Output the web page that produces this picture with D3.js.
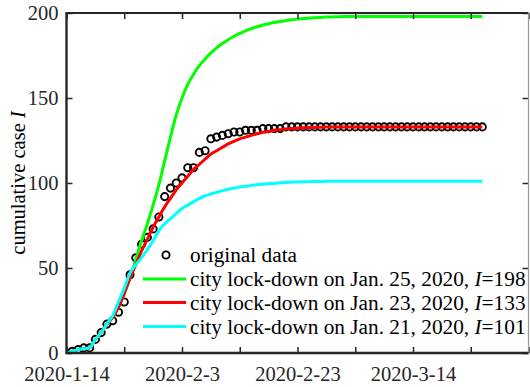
<!DOCTYPE html>
<html>
<head>
<meta charset="utf-8">
<script src="https://cdn.jsdelivr.net/npm/d3@7"></script>
</head>
<body style="margin:0">
<svg id="fig" width="530" height="387" style="font-family: 'Liberation Serif', 'Times New Roman', monospace;"></svg>
<script>
// Days since 2020-1-14 for every daily record
const days = d3.range(0, 73);

// Reported cumulative cases I
const original = [
  0, 1, 2, 3, 3, 8, 12, 17, 19, 24,
  30, 46, 56, 64, 68, 73, 80, 92, 97, 100,
  103, 109, 109, 118, 119, 126, 127, 128, 129, 130,
  130, 131, 131, 131, 132, 132, 132, 132, 133, 133,
  133, 133, 133, 133, 133, 133, 133, 133, 133, 133,
  133, 133, 133, 133, 133, 133, 133, 133, 133, 133,
  133, 133, 133, 133, 133, 133, 133, 133, 133, 133,
  133, 133, 133
];

// Model curves for three lock-down dates
const lockJan25 = [
  0, 1, 2, 2.5, 3, 8, 12, 17, 21, 27,
  35, 44, 55, 66, 76, 87, 99, 113, 127, 140,
  150, 158, 164, 169, 173, 176.5, 179.5, 182, 184.3, 186.3,
  188, 189.5, 190.8, 191.9, 192.9, 193.7, 194.4, 195, 195.5, 196,
  196.4, 196.7, 197, 197.2, 197.4, 197.6, 197.7, 197.8, 197.9, 198,
  198, 198, 198, 198, 198, 198, 198, 198, 198, 198,
  198, 198, 198, 198, 198, 198, 198, 198, 198, 198,
  198, 198, 198
];
const lockJan23 = [
  0, 1, 2, 2.5, 3, 8, 12, 17, 21, 27,
  35, 44, 52, 60, 67, 74, 80, 86, 91, 96,
  100, 104, 108, 111, 114, 117, 119, 121, 123, 124.5,
  126, 127, 128, 129, 129.8, 130.4, 131, 131.4, 131.8, 132.1,
  132.3, 132.5, 132.6, 132.7, 132.8, 132.9, 133, 133, 133, 133,
  133, 133, 133, 133, 133, 133, 133, 133, 133, 133,
  133, 133, 133, 133, 133, 133, 133, 133, 133, 133,
  133, 133, 133
];
const lockJan21 = [
  0, 1, 2, 2.5, 3, 8, 12, 17, 22, 30,
  38, 47, 52, 56, 61, 66, 72, 76, 79, 82,
  85, 87, 89, 91, 92.5, 93.5, 94.5, 95.5, 96.3, 97,
  97.6, 98.1, 98.6, 99, 99.3, 99.6, 99.9, 100.1, 100.3, 100.5,
  100.6, 100.7, 100.8, 100.9, 100.9, 101, 101, 101, 101, 101,
  101, 101, 101, 101, 101, 101, 101, 101, 101, 101,
  101, 101, 101, 101, 101, 101, 101, 101, 101, 101,
  101, 101, 101
];

const seriesNames = [
  "city lock-down on Jan. 25, 2020, ",
  "city lock-down on Jan. 23, 2020, ",
  "city lock-down on Jan. 21, 2020, "
];
const seriesFinal = ["198", "133", "101"];
const seriesColors = ["#00ff00", "#ff0000", "#00ffff"];
const seriesValues = [lockJan25, lockJan23, lockJan21];

// Axis ticks
const xTickDays = [0, 10, 20, 30, 40, 50, 60, 70, 80];
const xTickLabels = ["2020-1-14", "", "2020-2-3", "", "2020-2-23", "", "2020-3-14", "", ""];
const yTicks = [0, 50, 100, 150, 200];

const plot = { left: 66.5, right: 528.5, top: 13, bottom: 353 };
const axisColor = "#262626";

const svg = d3.select("#fig");
const x = d3.scaleLinear().domain([0, 80]).range([plot.left, plot.right]);
const y = d3.scaleLinear().domain([0, 200]).range([plot.bottom, plot.top]);

// Clip the marks to the axes box
svg.append("defs").append("clipPath").attr("id", "box")
  .append("rect")
  .attr("x", plot.left).attr("y", plot.top - 2)
  .attr("width", plot.right - plot.left).attr("height", plot.bottom - plot.top + 2);

const marks = svg.append("g").attr("clip-path", "url(#box)");

// Observed data as open circles
marks.append("g").selectAll("circle")
  .data(days)
  .join("circle")
  .attr("cx", d => x(d))
  .attr("cy", d => y(original[d]))
  .attr("r", 3.6)
  .attr("fill", "none")
  .attr("stroke", "#000")
  .attr("stroke-width", 1.9);

// Model curves
const line = d3.line()
  .x(d => x(d[0]))
  .y(d => y(d[1]))
  .curve(d3.curveMonotoneX);

seriesValues.forEach((vals, i) => {
  marks.append("path")
    .datum(days.map(d => [d, vals[d]]))
    .attr("d", line)
    .attr("fill", "none")
    .attr("stroke", seriesColors[i])
    .attr("stroke-width", 3)
    .attr("stroke-linejoin", "round");
});

// Axes (ticks point inward)
const fontSize = 20.5;
const xAxis = d3.axisBottom(x)
  .tickValues(xTickDays)
  .tickFormat((d, i) => xTickLabels[i])
  .tickSizeInner(-6).tickSizeOuter(0).tickPadding(13);
const xTop = d3.axisTop(x)
  .tickValues(xTickDays).tickFormat("")
  .tickSizeInner(-6).tickSizeOuter(0);
const yAxis = d3.axisLeft(y)
  .tickValues(yTicks)
  .tickSizeInner(-6).tickSizeOuter(0).tickPadding(8);
const yRight = d3.axisRight(y)
  .tickValues(yTicks).tickFormat("")
  .tickSizeInner(-6).tickSizeOuter(0);

function styleAxis(g) {
  g.attr("font-family", null).attr("font-size", fontSize);
  g.select(".domain").remove();
  g.selectAll(".tick line").attr("stroke", axisColor).attr("stroke-width", 1.5);
  g.selectAll(".tick text").attr("fill", axisColor);
}

svg.append("g").attr("transform", `translate(0,${plot.bottom})`).call(xAxis).call(styleAxis);
svg.append("g").attr("transform", `translate(0,${plot.top})`).call(xTop).call(styleAxis);
svg.append("g").attr("transform", `translate(${plot.left},0)`).call(yAxis).call(styleAxis);
svg.append("g").attr("transform", `translate(${plot.right},0)`).call(yRight).call(styleAxis);

// Axes box
svg.append("path")
  .attr("d", `M${plot.left},${plot.top}H${plot.right}`)
  .attr("stroke", axisColor).attr("stroke-width", 2.2);
svg.append("path")
  .attr("d", `M${plot.right},${plot.top}V${plot.bottom}`)
  .attr("stroke", "#9a9a9a").attr("stroke-width", 1.2);
svg.append("path")
  .attr("d", `M${plot.left},${plot.top - 1.1}V${plot.bottom}H${plot.right}`)
  .attr("fill", "none")
  .attr("stroke", axisColor).attr("stroke-width", 2.4);

// Y label
const yLabel = svg.append("text")
  .attr("transform", `translate(18,${(plot.top + plot.bottom) / 2}) rotate(-90)`)
  .attr("text-anchor", "middle")
  .attr("dy", "0.35em")
  .attr("fill", "#000")
  .attr("font-size", 20.5);
yLabel.append("tspan").text("cumulative case ");
yLabel.append("tspan").attr("font-style", "italic").text("I");

// Legend
const legend = svg.append("g");
const legRows = [255, 279, 302.5, 326.5];
const legFont = 21.3;
const textX = 190;

legend.append("circle")
  .attr("cx", 166).attr("cy", legRows[0])
  .attr("r", 3.6).attr("fill", "none")
  .attr("stroke", "#000").attr("stroke-width", 1.9);
legend.append("text")
  .attr("x", textX).attr("y", legRows[0]).attr("dy", "0.33em")
  .attr("fill", "#000")
  .attr("font-size", legFont)
  .text("original data");

seriesNames.forEach((name, i) => {
  const yy = legRows[i + 1];
  legend.append("line")
    .attr("x1", 143).attr("x2", 186)
    .attr("y1", yy).attr("y2", yy)
    .attr("stroke", seriesColors[i]).attr("stroke-width", 3);
  const t = legend.append("text")
    .attr("x", textX).attr("y", yy).attr("dy", "0.33em")
    .attr("fill", "#000")
    .attr("font-size", legFont);
  t.append("tspan").text(name);
  t.append("tspan").attr("font-style", "italic").text("I");
  t.append("tspan").text("=" + seriesFinal[i]);
});
</script>
</body>
</html>
